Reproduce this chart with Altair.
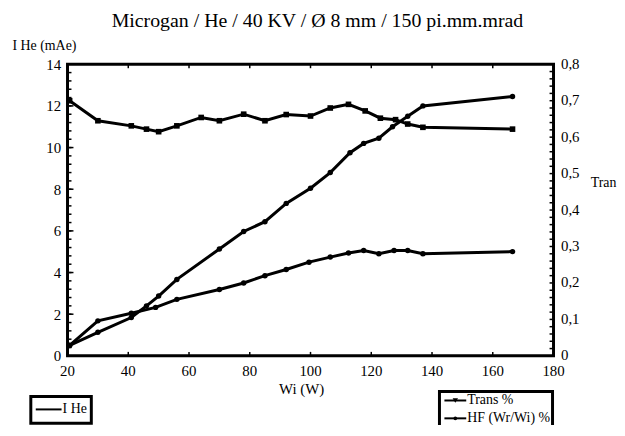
import altair as alt
import pandas as pd

FONT = "Liberation Serif"

# ---- data ----
title_text = "Microgan / He / 40 KV / Ø 8 mm / 150 pi.mm.mrad"
x_title = "Wi (W)"
left_title = "I He (mAe)"
right_title = "Tran"

w_ihe = [20.7, 30, 41, 46, 50, 56, 70, 78, 85, 92, 100, 106.5, 113, 117.5, 122.5, 127, 132, 137, 166.5]
ihe = [0.5, 1.13, 1.84, 2.4, 2.87, 3.67, 5.13, 5.97, 6.44, 7.32, 8.05, 8.8, 9.75, 10.2, 10.45, 11.0, 11.5, 12.0, 12.45]

w_trans = [20.7, 30, 41, 46, 50, 56, 64, 70, 78, 85, 92, 100, 106.5, 112.5, 118, 123, 128, 132, 137, 166.5]
trans = [0.700, 0.645, 0.631, 0.622, 0.615, 0.631, 0.654, 0.645, 0.663, 0.645, 0.662, 0.658, 0.680, 0.690, 0.672, 0.652, 0.648, 0.636, 0.627, 0.622]

w_hf = [20.7, 30, 41, 49, 56, 70, 78, 85, 92, 99.5, 106.5, 112.5, 117.5, 122.5, 127.5, 132, 137, 166.5]
hf = [0.029, 0.096, 0.117, 0.133, 0.155, 0.182, 0.200, 0.220, 0.237, 0.257, 0.271, 0.282, 0.289, 0.280, 0.289, 0.289, 0.280, 0.286]

x_ticks = [20, 40, 60, 80, 100, 120, 140, 160, 180]
left_ticks = [0, 2, 4, 6, 8, 10, 12, 14]
right_ticks = [0, 0.1, 0.2, 0.3, 0.4, 0.5, 0.6, 0.7, 0.8]
left_minor = [i * 0.4 for i in range(36)]
right_minor = [i * 0.02 for i in range(41)]

legend_left = ["I He"]
legend_right = ["Trans %", "HF (Wr/Wi) %"]

W, H = 490, 294

xs = alt.Scale(domain=[20, 180], nice=False, zero=False)
yl = alt.Scale(domain=[0, 14], nice=False, zero=True)
yr = alt.Scale(domain=[0, 0.8], nice=False, zero=True)

df_ihe = pd.DataFrame({"w": w_ihe, "v": ihe})
df_tr = pd.DataFrame({"w": w_trans, "v": trans})
df_hf = pd.DataFrame({"w": w_hf, "v": hf})

x_noaxis = alt.X("w:Q", scale=xs, axis=None)

left_axis = alt.Axis(orient="left", values=left_ticks, format="d", title=left_title,
                     titleAngle=0, titleX=-56, titleY=-19, titleAlign="left",
                     titleBaseline="middle", ticks=False, domain=False,
                     grid=False, labelPadding=7)
right_axis = alt.Axis(orient="right", values=right_ticks, title=right_title,
                      labelExpr="datum.value == 0 ? '0' : replace(format(datum.value, '.1f'), '.', ',')",
                      titleAngle=0, titleX=37, titleY=119, titleAlign="left", titleBaseline="middle",
                      ticks=False, domain=False, grid=False, labelPadding=7, labelOffset=-1)

# ---------- series ----------
ihe_line = alt.Chart(df_ihe).mark_line(color="black", strokeWidth=3).encode(
    x=x_noaxis, y=alt.Y("v:Q", scale=yl, axis=left_axis))
ihe_pts = alt.Chart(df_ihe).mark_point(filled=True, color="black", size=30, opacity=1).encode(
    x=x_noaxis, y=alt.Y("v:Q", scale=yl, axis=None))

tr_line = alt.Chart(df_tr).mark_line(color="black", strokeWidth=3).encode(
    x=x_noaxis, y=alt.Y("v:Q", scale=yr, axis=right_axis))
tr_pts = alt.Chart(df_tr).mark_point(shape="square", filled=True, color="black", size=32, opacity=1).encode(
    x=x_noaxis, y=alt.Y("v:Q", scale=yr, axis=None))
hf_line = alt.Chart(df_hf).mark_line(color="black", strokeWidth=3).encode(
    x=x_noaxis, y=alt.Y("v:Q", scale=yr, axis=None))
hf_pts = alt.Chart(df_hf).mark_point(filled=True, color="black", size=30, opacity=1).encode(
    x=x_noaxis, y=alt.Y("v:Q", scale=yr, axis=None))

# ---------- inward ticks ----------
df_lmin = pd.DataFrame({"t": left_minor})
lmin = alt.Chart(df_lmin).mark_rule(color="black", strokeWidth=1.5).encode(
    y=alt.Y("t:Q", scale=yl, axis=None), x=alt.value(0), x2=alt.value(4))
df_lmaj = pd.DataFrame({"t": left_ticks})
lmaj = alt.Chart(df_lmaj).mark_rule(color="black", strokeWidth=1.5).encode(
    y=alt.Y("t:Q", scale=yl, axis=None), x=alt.value(0), x2=alt.value(6))
df_rmin = pd.DataFrame({"t": right_minor})
rmin = alt.Chart(df_rmin).mark_rule(color="black", strokeWidth=1.5).encode(
    y=alt.Y("t:Q", scale=yr, axis=None), x=alt.value(W - 4), x2=alt.value(W))

df_xt = pd.DataFrame({"t": x_ticks})
xt_bot = alt.Chart(df_xt).mark_rule(color="black", strokeWidth=1.5).encode(
    x=alt.X("t:Q", scale=xs, axis=None), y=alt.value(H), y2=alt.value(H - 4))
xt_top = alt.Chart(df_xt).mark_rule(color="black", strokeWidth=1.5).encode(
    x=alt.X("t:Q", scale=xs, axis=None), y=alt.value(0), y2=alt.value(4))
# x tick labels (drawn through the x scale)
xt_lab = alt.Chart(df_xt).mark_text(font=FONT, fontSize=15, color="black",
                                    align="center", baseline="middle").encode(
    x=alt.X("t:Q", scale=xs, axis=None), y=alt.value(H + 15), text=alt.Text("t:Q", format="d"))

# ---------- titles ----------
title = alt.Chart(pd.DataFrame({"t": [title_text]})).mark_text(
    font=FONT, fontSize=20, color="black", align="center", baseline="middle").encode(
    text="t:N", x=alt.value(252), y=alt.value(-44))
xtitle = alt.Chart(pd.DataFrame({"t": [x_title]})).mark_text(
    font=FONT, fontSize=15, color="black", align="center", baseline="middle").encode(
    text="t:N", x=alt.value(236), y=alt.value(327))

# ---------- legends (drawn) ----------
one = pd.DataFrame({"a": [0]})
lg1_box = alt.Chart(one).mark_rect(fill="white", stroke="black", strokeWidth=3).encode(
    x=alt.value(-37), x2=alt.value(24), y=alt.value(335), y2=alt.value(362))
lg1_line = alt.Chart(one).mark_rule(color="black", strokeWidth=2).encode(
    x=alt.value(-32), x2=alt.value(-6), y=alt.value(348))
lg1_text = alt.Chart(pd.DataFrame({"t": legend_left})).mark_text(
    font=FONT, fontSize=14, color="black", align="left", baseline="middle").encode(
    text="t:N", x=alt.value(-5), y=alt.value(348))

lg2_box = alt.Chart(one).mark_rect(fill="white", stroke="black", strokeWidth=3).encode(
    x=alt.value(375), x2=alt.value(489), y=alt.value(330), y2=alt.value(368))
lg2_l1 = alt.Chart(one).mark_rule(color="black", strokeWidth=2).encode(
    x=alt.value(380), x2=alt.value(402), y=alt.value(339))
lg2_l2 = alt.Chart(one).mark_rule(color="black", strokeWidth=2).encode(
    x=alt.value(380), x2=alt.value(402), y=alt.value(357))
lg2_t1 = alt.Chart(pd.DataFrame({"t": legend_right[:1]})).mark_text(
    font=FONT, fontSize=14, color="black", align="left", baseline="middle").encode(
    text="t:N", x=alt.value(403), y=alt.value(339))
lg2_t2 = alt.Chart(pd.DataFrame({"t": legend_right[1:]})).mark_text(
    font=FONT, fontSize=14, color="black", align="left", baseline="middle").encode(
    text="t:N", x=alt.value(403), y=alt.value(357))
lg2_sq = alt.Chart(one).mark_point(shape="triangle-down", filled=True, color="black",
                                   size=30, opacity=1).encode(x=alt.value(391), y=alt.value(339))
lg2_dot = alt.Chart(one).mark_point(filled=True, color="black", size=14, opacity=1).encode(
    x=alt.value(391), y=alt.value(357))

chart = alt.layer(
    ihe_line, tr_line, ihe_pts, tr_pts, hf_line, hf_pts,
    lmin, lmaj, rmin, xt_bot, xt_top, xt_lab, title, xtitle,
    lg1_box, lg1_line, lg1_text, lg2_box, lg2_l1, lg2_l2, lg2_t1, lg2_t2, lg2_sq, lg2_dot,
).resolve_scale(y="independent").properties(
    width=W, height=H,
    padding={"left": 60, "top": 55, "right": 64, "bottom": 68},
    autosize=alt.AutoSizeParams(type="none"),
).configure_view(stroke="black", strokeWidth=3).configure_axis(
    labelFont=FONT, titleFont=FONT, labelFontSize=15, titleFontSize=14,
    titleFontWeight="normal", labelColor="black", titleColor="black",
)

chart.save("out.html", embed_options={"renderer": "svg", "actions": False})
